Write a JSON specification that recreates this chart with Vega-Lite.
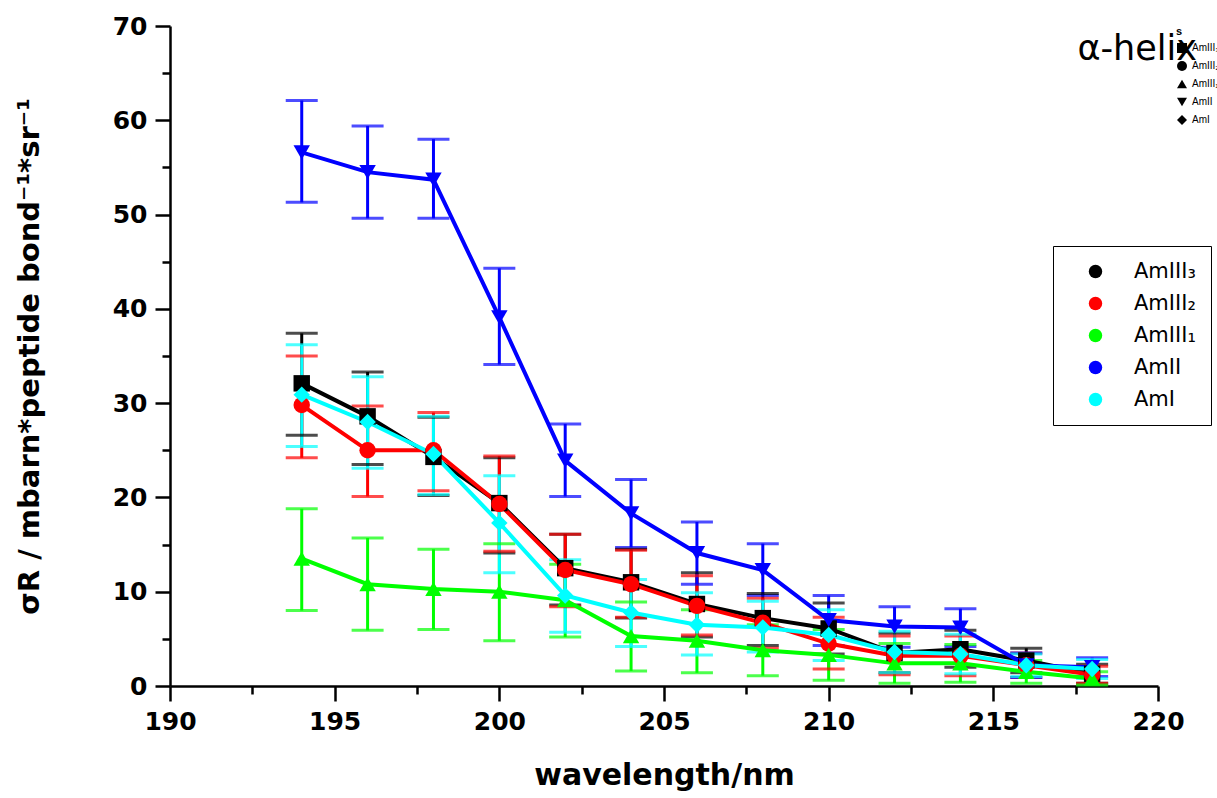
{
  "$schema": "https://vega.github.io/schema/vega-lite/v6.json",
  "width": 988,
  "height": 660,
  "autosize": {"type": "none"},
  "padding": {"left": 170, "top": 26, "right": 59, "bottom": 112},
  "background": "white",
  "title": {"text": "α-helix", "anchor": "end", "frame": "group", "orient": "top", "baseline": "alphabetic", "offset": 0, "dx": 39, "dy": 81, "font": "DejaVu Sans", "fontSize": 35, "fontWeight": "normal", "color": "black"},
  "config": {"view": {"stroke": null}, "axis": {"grid": false}},
  "data": {"values": [
    {"s": "AmIII₃", "x": 194, "y": 32.1, "lo": 26.6, "hi": 37.4},
    {"s": "AmIII₃", "x": 196, "y": 28.6, "lo": 23.5, "hi": 33.3},
    {"s": "AmIII₃", "x": 198, "y": 24.3, "lo": 20.2, "hi": 28.5},
    {"s": "AmIII₃", "x": 200, "y": 19.4, "lo": 14.1, "hi": 24.2},
    {"s": "AmIII₃", "x": 202, "y": 12.5, "lo": 8.6, "hi": 16.1},
    {"s": "AmIII₃", "x": 204, "y": 11.0, "lo": 7.2, "hi": 14.5},
    {"s": "AmIII₃", "x": 206, "y": 8.7, "lo": 5.2, "hi": 12.0},
    {"s": "AmIII₃", "x": 208, "y": 7.2, "lo": 4.3, "hi": 9.8},
    {"s": "AmIII₃", "x": 210, "y": 6.1, "lo": 3.4, "hi": 8.8},
    {"s": "AmIII₃", "x": 212, "y": 3.5, "lo": 1.4, "hi": 5.6},
    {"s": "AmIII₃", "x": 214, "y": 3.9, "lo": 2.0, "hi": 5.9},
    {"s": "AmIII₃", "x": 216, "y": 2.7, "lo": 1.4, "hi": 4.0},
    {"s": "AmIII₃", "x": 218, "y": 1.3, "lo": 0.3, "hi": 2.3},
    {"s": "AmIII₂", "x": 194, "y": 29.8, "lo": 24.2, "hi": 35.0},
    {"s": "AmIII₂", "x": 196, "y": 25.0, "lo": 20.1, "hi": 29.7},
    {"s": "AmIII₂", "x": 198, "y": 25.0, "lo": 20.7, "hi": 29.0},
    {"s": "AmIII₂", "x": 200, "y": 19.3, "lo": 14.3, "hi": 24.4},
    {"s": "AmIII₂", "x": 202, "y": 12.3, "lo": 8.4, "hi": 16.1},
    {"s": "AmIII₂", "x": 204, "y": 10.8, "lo": 7.3, "hi": 14.4},
    {"s": "AmIII₂", "x": 206, "y": 8.5, "lo": 5.4, "hi": 11.7},
    {"s": "AmIII₂", "x": 208, "y": 6.7, "lo": 4.0, "hi": 9.3},
    {"s": "AmIII₂", "x": 210, "y": 4.5, "lo": 1.8, "hi": 7.3},
    {"s": "AmIII₂", "x": 212, "y": 3.2, "lo": 1.2, "hi": 5.3},
    {"s": "AmIII₂", "x": 214, "y": 3.2, "lo": 1.1, "hi": 5.3},
    {"s": "AmIII₂", "x": 216, "y": 2.2, "lo": 0.9, "hi": 3.5},
    {"s": "AmIII₂", "x": 218, "y": 1.2, "lo": 0.3, "hi": 2.1},
    {"s": "AmIII₁", "x": 194, "y": 13.5, "lo": 8.0, "hi": 18.8},
    {"s": "AmIII₁", "x": 196, "y": 10.8, "lo": 5.9, "hi": 15.7},
    {"s": "AmIII₁", "x": 198, "y": 10.3, "lo": 6.0, "hi": 14.5},
    {"s": "AmIII₁", "x": 200, "y": 10.0, "lo": 4.8, "hi": 15.1},
    {"s": "AmIII₁", "x": 202, "y": 9.1, "lo": 5.2, "hi": 12.9},
    {"s": "AmIII₁", "x": 204, "y": 5.3, "lo": 1.6, "hi": 8.9},
    {"s": "AmIII₁", "x": 206, "y": 4.8, "lo": 1.4, "hi": 8.1},
    {"s": "AmIII₁", "x": 208, "y": 3.8, "lo": 1.1, "hi": 6.5},
    {"s": "AmIII₁", "x": 210, "y": 3.3, "lo": 0.6, "hi": 6.0},
    {"s": "AmIII₁", "x": 212, "y": 2.4, "lo": 0.3, "hi": 4.5},
    {"s": "AmIII₁", "x": 214, "y": 2.4, "lo": 0.4, "hi": 4.4},
    {"s": "AmIII₁", "x": 216, "y": 1.5, "lo": 0.3, "hi": 2.7},
    {"s": "AmIII₁", "x": 218, "y": 0.8, "lo": 0.1, "hi": 1.5},
    {"s": "AmII", "x": 194, "y": 56.6, "lo": 51.3, "hi": 62.1},
    {"s": "AmII", "x": 196, "y": 54.5, "lo": 49.6, "hi": 59.4},
    {"s": "AmII", "x": 198, "y": 53.7, "lo": 49.6, "hi": 58.0},
    {"s": "AmII", "x": 200, "y": 39.1, "lo": 34.1, "hi": 44.3},
    {"s": "AmII", "x": 202, "y": 23.9, "lo": 20.1, "hi": 27.8},
    {"s": "AmII", "x": 204, "y": 18.3, "lo": 14.7, "hi": 21.9},
    {"s": "AmII", "x": 206, "y": 14.1, "lo": 10.8, "hi": 17.4},
    {"s": "AmII", "x": 208, "y": 12.3, "lo": 9.6, "hi": 15.1},
    {"s": "AmII", "x": 210, "y": 7.0, "lo": 4.3, "hi": 9.6},
    {"s": "AmII", "x": 212, "y": 6.3, "lo": 4.1, "hi": 8.4},
    {"s": "AmII", "x": 214, "y": 6.2, "lo": 4.2, "hi": 8.2},
    {"s": "AmII", "x": 216, "y": 2.2, "lo": 0.9, "hi": 3.5},
    {"s": "AmII", "x": 218, "y": 2.0, "lo": 1.0, "hi": 3.0},
    {"s": "AmI", "x": 194, "y": 30.9, "lo": 25.4, "hi": 36.2},
    {"s": "AmI", "x": 196, "y": 28.0, "lo": 23.1, "hi": 32.8},
    {"s": "AmI", "x": 198, "y": 24.6, "lo": 20.3, "hi": 28.6},
    {"s": "AmI", "x": 200, "y": 17.3, "lo": 12.0, "hi": 22.3},
    {"s": "AmI", "x": 202, "y": 9.6, "lo": 5.7, "hi": 13.4},
    {"s": "AmI", "x": 204, "y": 7.8, "lo": 4.2, "hi": 11.3},
    {"s": "AmI", "x": 206, "y": 6.5, "lo": 3.3, "hi": 9.9},
    {"s": "AmI", "x": 208, "y": 6.2, "lo": 3.6, "hi": 9.0},
    {"s": "AmI", "x": 210, "y": 5.4, "lo": 2.7, "hi": 8.1},
    {"s": "AmI", "x": 212, "y": 3.6, "lo": 1.4, "hi": 5.8},
    {"s": "AmI", "x": 214, "y": 3.4, "lo": 1.3, "hi": 5.5},
    {"s": "AmI", "x": 216, "y": 2.2, "lo": 1.0, "hi": 3.4},
    {"s": "AmI", "x": 218, "y": 1.8, "lo": 0.8, "hi": 2.8}
  ]},
  "resolve": {"axis": {"x": "independent", "y": "independent"}},
  "layer": [
    {
      "mark": {"type": "rule", "strokeWidth": 3},
      "encoding": {
        "x": {"field": "x", "type": "quantitative", "scale": {"domain": [190, 220], "nice": false, "zero": false},
          "axis": {"orient": "bottom", "values": [190, 195, 200, 205, 210, 215, 220], "tickSize": 15, "tickWidth": 2.5, "tickColor": "black", "domainColor": "black", "domainWidth": 2.5, "labelFont": "DejaVu Sans", "labelFontWeight": "bold", "labelFontSize": 25, "labelColor": "black", "labelPadding": 8, "labelFlush": false, "title": "wavelength/nm", "titleFont": "DejaVu Sans", "titleFontSize": 30, "titleFontWeight": "bold", "titleColor": "black", "titlePadding": 26}},
        "y": {"field": "lo", "type": "quantitative", "scale": {"domain": [0, 70], "nice": false},
          "axis": {"orient": "left", "values": [0, 10, 20, 30, 40, 50, 60, 70], "tickSize": 15, "tickWidth": 2.5, "tickColor": "black", "domainColor": "black", "domainWidth": 2.5, "labelFont": "DejaVu Sans", "labelFontWeight": "bold", "labelFontSize": 25, "labelColor": "black", "labelPadding": 8, "labelFlush": false, "title": "σR / mbarn*peptide bond⁻¹*sr⁻¹", "titleFont": "DejaVu Sans", "titleFontSize": 29, "titleFontWeight": "bold", "titleColor": "black", "titlePadding": 68}},
        "y2": {"field": "hi"},
        "color": {"field": "s", "type": "nominal", "legend": null, "scale": {"domain": ["AmIII₃", "AmIII₂", "AmIII₁", "AmII", "AmI"], "range": ["#000000", "#ff0000", "#00ff00", "#0000ff", "#00ffff"]}}
      }
    },
    {
      "mark": {"type": "tick", "orient": "horizontal", "thickness": 3, "size": 32},
      "encoding": {
        "x": {"field": "x", "type": "quantitative", "axis": {"orient": "bottom", "values": [192.5, 197.5, 202.5, 207.5, 212.5, 217.5], "tickSize": 8, "tickWidth": 2.5, "tickColor": "black", "domain": false, "labels": false, "title": null}},
        "y": {"field": "lo", "type": "quantitative", "axis": {"orient": "left", "values": [5, 15, 25, 35, 45, 55, 65], "tickSize": 8, "tickWidth": 2.5, "tickColor": "black", "domain": false, "labels": false, "title": null}},
        "color": {"field": "s", "type": "nominal", "legend": null}
      }
    },
    {
      "mark": {"type": "tick", "orient": "horizontal", "thickness": 3, "size": 32},
      "encoding": {
        "x": {"field": "x", "type": "quantitative", "axis": null},
        "y": {"field": "hi", "type": "quantitative", "axis": null},
        "color": {"field": "s", "type": "nominal", "legend": null}
      }
    },
    {
      "mark": {"type": "line", "strokeWidth": 4},
      "encoding": {
        "x": {"field": "x", "type": "quantitative", "axis": null},
        "y": {"field": "y", "type": "quantitative", "axis": null},
        "color": {"field": "s", "type": "nominal", "legend": null}
      }
    },
    {
      "mark": {"type": "point", "filled": true, "size": 270, "opacity": 1},
      "encoding": {
        "x": {"field": "x", "type": "quantitative", "axis": null},
        "y": {"field": "y", "type": "quantitative", "axis": null},
        "fill": {"field": "s", "type": "nominal", "sort": ["AmIII₃", "AmIII₂", "AmIII₁", "AmII", "AmI"],
          "scale": {"range": ["#000000", "#ff0000", "#00ff00", "#0000ff", "#00ffff"]},
          "legend": {"title": null, "orient": "none", "legendX": 883, "legendY": 220, "padding": 15, "rowPadding": 10, "strokeColor": "black", "symbolSize": 180, "symbolOffset": 17, "symbolOpacity": 1, "labelOffset": 28, "labelFont": "DejaVu Sans", "labelFontSize": 21, "labelColor": "black", "labelLimit": 200}},
        "shape": {"field": "s", "type": "nominal", "sort": ["AmIII₃", "AmIII₂", "AmIII₁", "AmII", "AmI"],
          "scale": {"range": ["square", "circle", "triangle-up", "triangle-down", "diamond"]}}
      }
    }
  ]
}
